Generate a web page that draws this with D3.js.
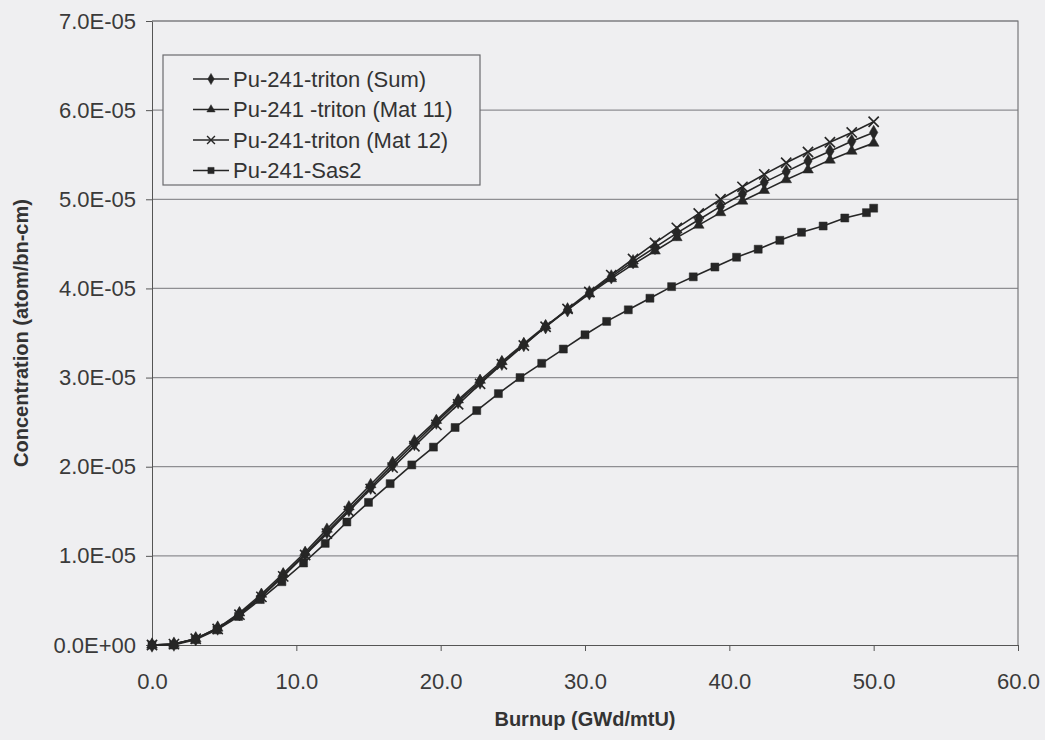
<!DOCTYPE html>
<html>
<head>
<meta charset="utf-8">
<script src="https://cdn.jsdelivr.net/npm/d3@7"></script>
<style>
  body { margin: 0; background: #efeff1; }
  svg { display: block; font-family: "Liberation Sans", Arial, sans-serif; }
</style>
</head>
<body>
<div class="svg-container"></div>
<script>
// burnup grids (GWd/mtU)
const tritonBurnup = [0, 1.52, 3.03, 4.55, 6.06, 7.58, 9.09, 10.61, 12.12, 13.64, 15.15, 16.67, 18.18, 19.70, 21.21, 22.73, 24.24, 25.76, 27.27, 28.79, 30.30, 31.82, 33.33, 34.85, 36.36, 37.88, 39.39, 40.91, 42.42, 43.94, 45.45, 46.97, 48.48, 50.0];
const sas2Burnup = [0, 1.5, 3, 4.5, 6, 7.5, 9, 10.5, 12, 13.5, 15, 16.5, 18, 19.5, 21, 22.5, 24, 25.5, 27, 28.5, 30, 31.5, 33, 34.5, 36, 37.5, 39, 40.5, 42, 43.5, 45, 46.5, 48, 49.5, 50];

// concentrations in units of 1E-05 atom/bn-cm
const tritonSum = [0, 0.01, 0.07, 0.19, 0.35, 0.55, 0.78, 1.02, 1.27, 1.52, 1.77, 2.02, 2.26, 2.50, 2.73, 2.95, 3.16, 3.37, 3.57, 3.76, 3.95, 4.13, 4.30, 4.46, 4.62, 4.77, 4.92, 5.06, 5.19, 5.31, 5.43, 5.54, 5.65, 5.75];
const tritonMat11 = [0, 0.01, 0.07, 0.19, 0.36, 0.57, 0.80, 1.04, 1.30, 1.55, 1.80, 2.05, 2.29, 2.52, 2.75, 2.97, 3.18, 3.38, 3.58, 3.76, 3.94, 4.11, 4.27, 4.42, 4.57, 4.71, 4.85, 4.98, 5.10, 5.22, 5.33, 5.44, 5.54, 5.63];
const tritonMat12 = [0, 0.01, 0.07, 0.18, 0.34, 0.54, 0.77, 1.01, 1.25, 1.50, 1.75, 1.99, 2.23, 2.47, 2.70, 2.93, 3.15, 3.36, 3.57, 3.77, 3.96, 4.15, 4.33, 4.51, 4.68, 4.84, 5.00, 5.14, 5.28, 5.41, 5.53, 5.64, 5.75, 5.87];
const sas2 = [0, 0, 0.06, 0.17, 0.32, 0.51, 0.71, 0.92, 1.14, 1.38, 1.60, 1.81, 2.02, 2.22, 2.44, 2.63, 2.82, 3.00, 3.16, 3.32, 3.48, 3.63, 3.76, 3.89, 4.02, 4.13, 4.24, 4.35, 4.44, 4.54, 4.63, 4.70, 4.79, 4.85, 4.90];

const xTicks = [0, 10, 20, 30, 40, 50, 60];
const yTicks = [0, 1, 2, 3, 4, 5, 6, 7];

const seriesNames = ["Pu-241-triton (Sum)", "Pu-241 -triton (Mat 11)", "Pu-241-triton (Mat 12)", "Pu-241-Sas2"];

const series = [
  { name: seriesNames[0], x: tritonBurnup, y: tritonSum, symbol: d3.symbolDiamond, size: 60, kind: "fill" },
  { name: seriesNames[1], x: tritonBurnup, y: tritonMat11, symbol: d3.symbolTriangle, size: 50, kind: "fill" },
  { name: seriesNames[2], x: tritonBurnup, y: tritonMat12, symbol: d3.symbolX, size: 70, kind: "stroke" },
  { name: seriesNames[3], x: sas2Burnup, y: sas2, symbol: d3.symbolSquare, size: 64, kind: "fill" }
];

const W = 1045, H = 740;
const margin = { top: 21, right: 27, bottom: 95, left: 152 };
const width = W - margin.left - margin.right;
const height = H - margin.top - margin.bottom;
const ink = "#262626";

const svg = d3.select(".svg-container")
  .append("svg")
  .attr("width", W)
  .attr("height", H);

const g = svg.append("g")
  .attr("transform", "translate(" + margin.left + "," + margin.top + ")");

const xScale = d3.scaleLinear().domain([0, 60]).range([0, width]);
const yScale = d3.scaleLinear().domain([0, 7]).range([height, 0]);

// gridlines
g.append("g")
  .selectAll("line")
  .data(yTicks.slice(1))
  .enter()
  .append("line")
  .attr("x1", 0)
  .attr("x2", width)
  .attr("y1", d => yScale(d))
  .attr("y2", d => yScale(d))
  .style("stroke", "#8e8e92")
  .style("stroke-width", 1.2);

// plot border (top/right)
g.append("path")
  .attr("d", "M0,0H" + width + "V" + height)
  .style("fill", "none")
  .style("stroke", "#77777b")
  .style("stroke-width", 1.2);

// X AXIS
const xAxis = d3.axisBottom(xScale)
  .tickValues(xTicks)
  .tickFormat(d3.format(".1f"))
  .tickSizeInner(6)
  .tickSizeOuter(0)
  .tickPadding(22);

g.append("g")
  .attr("transform", "translate(0," + height + ")")
  .call(xAxis)
  .call(a => a.select(".domain").style("stroke", "#555"))
  .call(a => a.selectAll(".tick line").style("stroke", "#555"))
  .call(a => a.selectAll("text").style("font-size", "22px").style("fill", "#3a3a3a"));

// Y AXIS
const yAxis = d3.axisLeft(yScale)
  .tickValues(yTicks)
  .tickFormat(d => d === 0 ? "0.0E+00" : d.toFixed(1) + "E-05")
  .tickSizeInner(6)
  .tickSizeOuter(0)
  .tickPadding(10);

g.append("g")
  .call(yAxis)
  .call(a => a.select(".domain").style("stroke", "#555"))
  .call(a => a.selectAll(".tick line").style("stroke", "#555"))
  .call(a => a.selectAll("text").style("font-size", "22px").style("fill", "#3a3a3a"));

// axis titles
svg.append("text")
  .attr("x", margin.left + width / 2)
  .attr("y", 726)
  .style("text-anchor", "middle")
  .style("font-size", "20px")
  .style("font-weight", "bold")
  .style("fill", "#333")
  .text("Burnup (GWd/mtU)");

svg.append("text")
  .attr("transform", "translate(28," + (margin.top + height / 2) + ") rotate(-90)")
  .style("text-anchor", "middle")
  .style("font-size", "20px")
  .style("font-weight", "bold")
  .style("fill", "#333")
  .text("Concentration (atom/bn-cm)");

// LINES
const line = d3.line()
  .x(d => xScale(d[0]))
  .y(d => yScale(d[1]));

series.forEach(s => {
  const pts = s.x.map((x, i) => [x, s.y[i]]);
  const sg = g.append("g");
  sg.append("path")
    .datum(pts)
    .attr("d", line)
    .style("fill", "none")
    .style("stroke", ink)
    .style("stroke-width", 1.6);
  sg.selectAll(".pt")
    .data(pts)
    .enter()
    .append("path")
    .attr("class", "pt")
    .attr("transform", d => "translate(" + xScale(d[0]) + "," + yScale(d[1]) + ")")
    .attr("d", d3.symbol().type(s.symbol).size(s.size))
    .style("fill", s.kind === "fill" ? ink : "none")
    .style("stroke", ink)
    .style("stroke-width", s.kind === "fill" ? 0.5 : 1.6);
});

// LEGEND
const legend = svg.append("g")
  .attr("transform", "translate(163,55)");

legend.append("rect")
  .attr("width", 317)
  .attr("height", 130)
  .style("fill", "#efeff1")
  .style("stroke", "#6a6a6e")
  .style("stroke-width", 1.2);

const rows = legend.selectAll(".row")
  .data(series)
  .enter()
  .append("g")
  .attr("class", "row")
  .attr("transform", (d, i) => "translate(0," + (24 + i * 30.5) + ")");

rows.append("line")
  .attr("x1", 30)
  .attr("x2", 66)
  .style("stroke", ink)
  .style("stroke-width", 1.6);

rows.append("path")
  .attr("transform", "translate(48,0)")
  .attr("d", d => d3.symbol().type(d.symbol).size(d.size * 0.6)())
  .style("fill", d => d.kind === "fill" ? ink : "none")
  .style("stroke", ink)
  .style("stroke-width", d => d.kind === "fill" ? 0.5 : 1.4);

rows.append("text")
  .attr("x", 70)
  .attr("dy", "0.35em")
  .style("font-size", "22px")
  .style("fill", "#333")
  .text(d => d.name);
</script>
</body>
</html>
